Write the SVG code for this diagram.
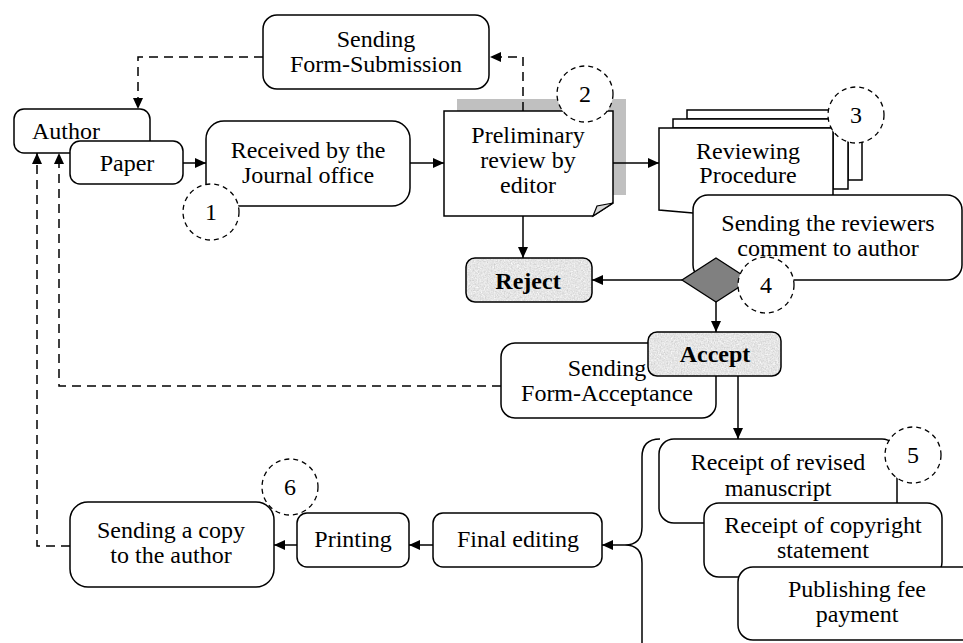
<svg xmlns="http://www.w3.org/2000/svg" width="963" height="643" viewBox="0 0 963 643" font-family="'Liberation Serif', 'Times New Roman', 'DejaVu Serif', serif">
<style>
.b{fill:#fff;stroke:#000;stroke-width:1.5}
text{font-family:'Liberation Serif','Times New Roman','DejaVu Serif',serif;font-size:24px;fill:#000;text-anchor:middle}
.bd{font-weight:bold}
.c{fill:#fff;stroke:#000;stroke-width:1.3;stroke-dasharray:5 4}
.ln{fill:none;stroke:#000;stroke-width:1.5}
.ds{fill:none;stroke:#000;stroke-width:1.5;stroke-dasharray:9 6}
</style>
<defs>
<marker id="ah" markerUnits="userSpaceOnUse" markerWidth="11" markerHeight="10" refX="11" refY="5" orient="auto">
<path d="M0,0 L11,5 L0,10 Z" fill="#000"/>
</marker>
<filter id="tex" x="0" y="0" width="100%" height="100%" color-interpolation-filters="sRGB">
<feTurbulence type="fractalNoise" baseFrequency="0.7" numOctaves="3" seed="5"/>
<feColorMatrix type="matrix" values="0.33 0.33 0.33 0 0 0.33 0.33 0.33 0 0 0.33 0.33 0.33 0 0 0 0 0 0 1"/>
<feComponentTransfer>
<feFuncR type="linear" slope="0.4" intercept="0.7"/>
<feFuncG type="linear" slope="0.4" intercept="0.7"/>
<feFuncB type="linear" slope="0.4" intercept="0.7"/>
</feComponentTransfer>
<feComposite in2="SourceGraphic" operator="in"/>
</filter>
</defs>

<g id="sending-form-submission">
<rect class="b" x="263" y="15" width="226" height="74" rx="14"/>
<text x="376" y="47">Sending</text>
<text x="376" y="72">Form-Submission</text>
</g>

<g id="author">
<rect class="b" x="14" y="109" width="136" height="44" rx="10"/>
<text x="32" y="139" style="text-anchor:start">Author</text>
</g>

<g id="paper">
<rect class="b" x="70" y="141" width="113" height="43" rx="10"/>
<text x="127" y="171">Paper</text>
</g>

<g id="received">
<rect class="b" x="206" y="121" width="204" height="85" rx="18"/>
<text x="308" y="158">Received by the</text>
<text x="308" y="183">Journal office</text>
</g>
<g id="step1">
<circle class="c" cx="211" cy="212" r="28"/>
<text x="211" y="220">1</text>
</g>

<g id="preliminary">
<rect x="457" y="99" width="169" height="96" fill="#c0c0c0"/>
<path class="b" d="M444,111 H613 V203 L593,216 H444 Z"/>
<path d="M593,216 L597,206 L613,203 Z" fill="#d8d8d8" stroke="#000" stroke-width="1.2"/>
<text x="528" y="143">Preliminary</text>
<text x="528" y="168">review by</text>
<text x="528" y="193">editor</text>
</g>
<g id="step2">
<circle class="c" cx="585" cy="94" r="28"/>
<text x="585" y="102">2</text>
</g>

<g id="reviewing">
<path class="b" d="M687,110 H862 V180 H848 V119 H687 Z"/>
<path class="b" d="M673,119 H848 V189 H833 V128 H673 Z"/>
<path class="b" d="M659,128 H833 V205 C790,200 740,215 693,213 L659,210 Z"/>
<text x="748" y="159">Reviewing</text>
<text x="748" y="183">Procedure</text>
</g>
<g id="step3">
<circle class="c" cx="856" cy="115" r="28"/>
<text x="856" y="123">3</text>
</g>

<g id="sending-reviewers">
<rect class="b" x="693" y="195" width="269" height="85" rx="15"/>
<text x="828" y="231">Sending the reviewers</text>
<text x="828" y="256">comment to author</text>
</g>

<g id="decision">
<path d="M716,258 L750,280 L716,302 L682,280 Z" fill="#808080" stroke="#000" stroke-width="1.3"/>
</g>
<g id="step4">
<circle class="c" cx="766" cy="285" r="28"/>
<text x="766" y="293">4</text>
</g>

<g id="reject">
<rect x="466" y="258" width="126" height="44" rx="9" fill="#e4e4e4" filter="url(#tex)"/>
<rect x="466" y="258" width="126" height="44" rx="9" fill="none" stroke="#000" stroke-width="1.5"/>
<text class="bd" x="528" y="289">Reject</text>
</g>

<g id="sending-form-acceptance">
<rect class="b" x="501" y="343" width="215" height="75" rx="14"/>
<text x="607" y="376">Sending</text>
<text x="607" y="401">Form-Acceptance</text>
</g>

<g id="accept">
<rect x="648" y="332" width="133" height="44" rx="9" fill="#e4e4e4" filter="url(#tex)"/>
<rect x="648" y="332" width="133" height="44" rx="9" fill="none" stroke="#000" stroke-width="1.5"/>
<text class="bd" x="715" y="362">Accept</text>
</g>

<g id="receipt-revised">
<rect class="b" x="659" y="439" width="238" height="84" rx="15"/>
<text x="778" y="470">Receipt of revised</text>
<text x="778" y="496">manuscript</text>
</g>
<g id="step5">
<circle class="c" cx="913" cy="455" r="28"/>
<text x="913" y="463">5</text>
</g>

<g id="receipt-copyright">
<rect class="b" x="704" y="503" width="238" height="74" rx="15"/>
<text x="823" y="533">Receipt of copyright</text>
<text x="823" y="558">statement</text>
</g>

<g id="publishing-fee">
<rect class="b" x="738" y="567" width="240" height="73" rx="15"/>
<text x="857" y="597">Publishing fee</text>
<text x="857" y="622">payment</text>
</g>

<g id="final-editing">
<rect class="b" x="433" y="513" width="169" height="54" rx="10"/>
<text x="518" y="547">Final editing</text>
</g>

<g id="printing">
<rect class="b" x="297" y="513" width="112" height="54" rx="10"/>
<text x="353" y="547">Printing</text>
</g>

<g id="sending-copy">
<rect class="b" x="70" y="502" width="204" height="85" rx="18"/>
<text x="171" y="538">Sending a copy</text>
<text x="171" y="563">to the author</text>
</g>
<g id="step6">
<circle class="c" cx="290" cy="487" r="28" style="fill:none"/>
<text x="290" y="495">6</text>
</g>

<g id="connectors">
<path class="ds" d="M263,57 H138 V109" marker-end="url(#ah)"/>
<path class="ds" d="M523,111 V57 H490" marker-end="url(#ah)"/>
<path class="ds" d="M501,386 H59 V153" marker-end="url(#ah)"/>
<path class="ds" d="M70,546 H37 V153" marker-end="url(#ah)"/>
<path class="ln" d="M183,163 H206" marker-end="url(#ah)"/>
<path class="ln" d="M410,163 H444" marker-end="url(#ah)"/>
<path class="ln" d="M613,163 H659" marker-end="url(#ah)"/>
<path class="ln" d="M523,216 V258" marker-end="url(#ah)"/>
<path class="ln" d="M682,280 H592" marker-end="url(#ah)"/>
<path class="ln" d="M716,302 V332" marker-end="url(#ah)"/>
<path class="ln" d="M738,376 V439" marker-end="url(#ah)"/>
<path class="ln" d="M660,439 Q642,439 642,457 V527 Q642,545 625,545 Q642,545 642,563 V650"/>
<path class="ln" d="M625,545 H602" marker-end="url(#ah)"/>
<path class="ln" d="M433,545 H409" marker-end="url(#ah)"/>
<path class="ln" d="M297,545 H274" marker-end="url(#ah)"/>
</g>
</svg>
